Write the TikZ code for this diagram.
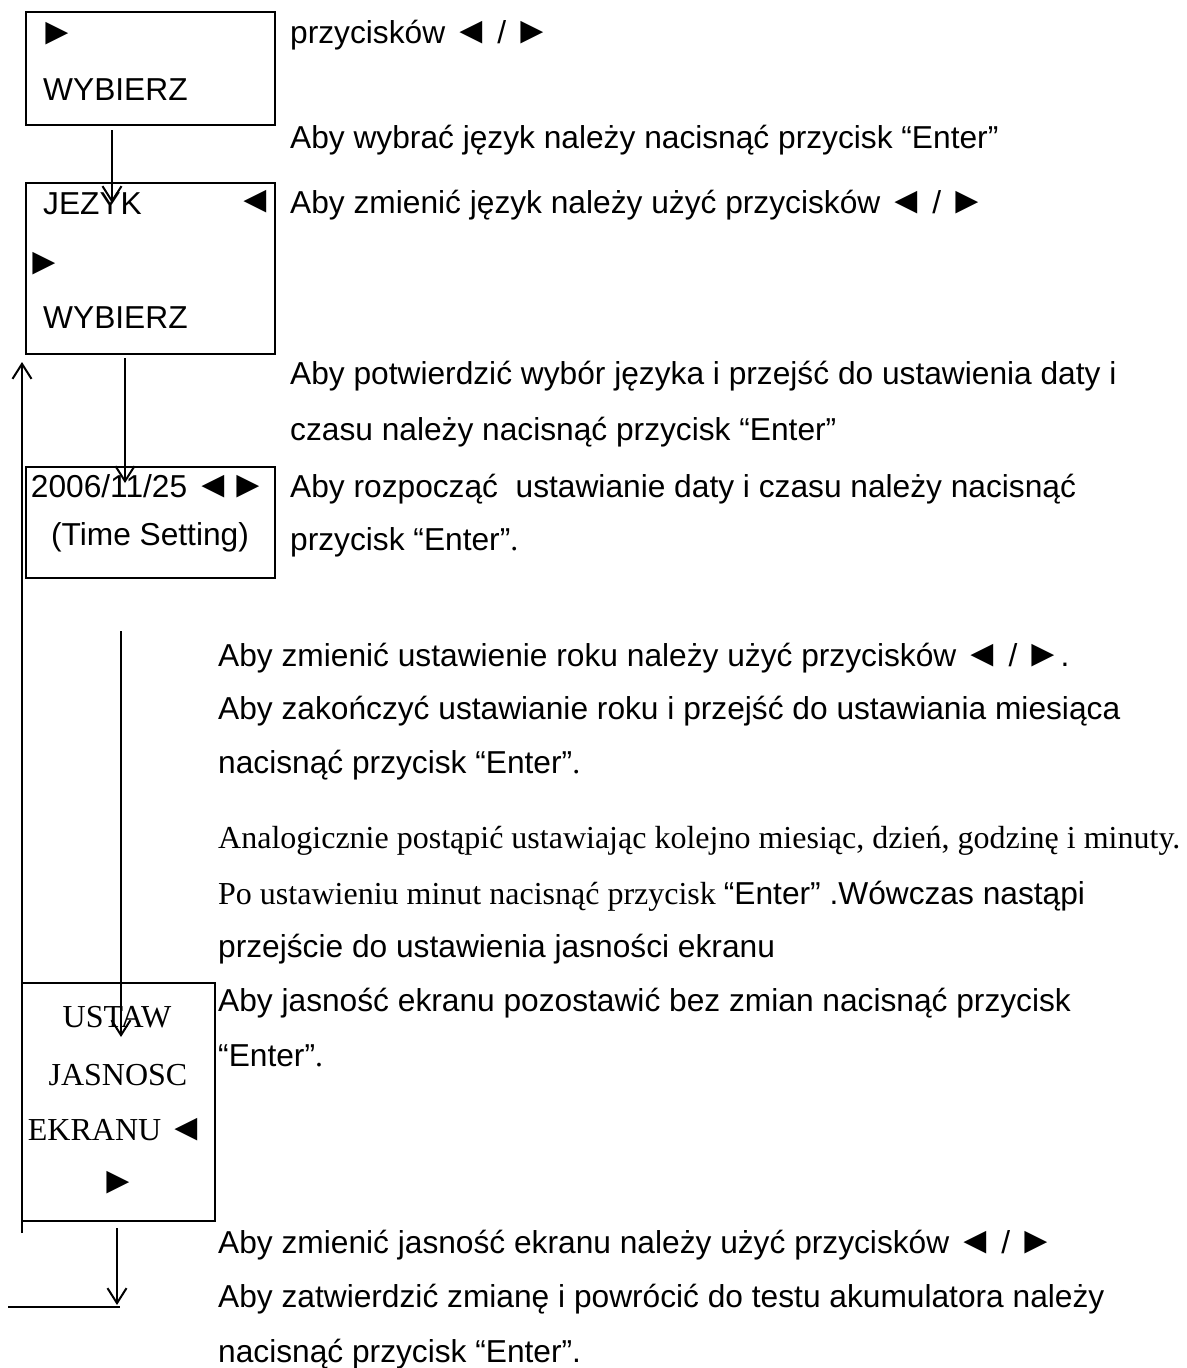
\documentclass[tikz,border=0pt]{standalone}
\usepackage{fontspec}
\setmainfont{Liberation Sans}
\newfontfamily\tnr{Liberation Serif}
\usetikzlibrary{arrows.meta}
\newlength\symwd
\newcommand\symL{\settowidth\symwd{◄}\makebox[1.1\symwd][c]{\fontsize{38}{38}\selectfont ◄}}
\newcommand\symR{\settowidth\symwd{►}\makebox[1.1\symwd][c]{\fontsize{38}{38}\selectfont ►}}
\begin{document}
\begin{tikzpicture}[x=1pt,y=-1pt,
  box/.style={draw, line width=2pt, inner sep=0pt, outer sep=0pt, anchor=north west},
  txt/.style={anchor=base west, inner sep=0pt, font=\fontsize{31.7}{38}\selectfont},
  stxt/.style={anchor=base west, inner sep=0pt, font=\fontsize{32}{38}\tnr},
  sctr/.style={anchor=base, inner sep=0pt, font=\fontsize{32}{38}\tnr},
  cctr/.style={anchor=base, inner sep=0pt, font=\fontsize{31.7}{38}\selectfont},
  sym/.style={anchor=center, inner sep=0pt, font=\fontsize{38}{38}\selectfont},
  arr/.style={line width=2pt, -{Straight Barb[length=15pt,width=19pt,line width=2pt]}},
  ln/.style={line width=2pt}]
\useasboundingbox (0,0) rectangle (1186,1368);
% boxes
\node[box, minimum width=249pt, minimum height=113pt] (b1) at (26,12) {};
\node[box, minimum width=249pt, minimum height=171pt] (b2) at (26,183) {};
\node[box, minimum width=249pt, minimum height=111pt] (b3) at (26,467) {};
\node[box, minimum width=193pt, minimum height=238pt] (b4) at (22,983) {};
% box contents
\node[sym] (b1s) at (57,34) {►};
\node[txt] (b1t) at (43,100) {WYBIERZ};
\node[txt] (b2t) at (43,214) {JEZYK};
\node[sym] (b2l) at (255,202) {◄};
\node[sym] (b2r) at (44,264) {►};
\node[txt] (b2w) at (43,328) {WYBIERZ};
\node[cctr] (b3a) at (148,497) {2006/11/25 \symL\symR};
\node[cctr] (b3b) at (150,545) {(Time Setting)};
\node[sctr] (b4a) at (117,1027) {USTAW};
\node[sctr] (b4b) at (118,1085) {JASNOSC};
\node[sctr] (b4c) at (116,1140) {EKRANU \symL};
\node[sym] (b4d) at (118,1183) {►};
% right texts
\node[txt] (t1) at (290,43) {przycisków \symL{} / \symR};
\node[txt] (t2) at (290,148) {Aby wybrać język należy nacisnąć przycisk “Enter”};
\node[txt] (t3) at (290,213) {Aby zmienić język należy użyć przycisków \symL{} / \symR};
\node[txt] (t4) at (290,384) {Aby potwierdzić wybór języka i przejść do ustawienia daty i};
\node[txt] (t5) at (290,440) {czasu należy nacisnąć przycisk “Enter”};
\node[txt] (t6) at (290,497) {Aby rozpocząć\ \ ustawianie daty i czasu należy nacisnąć};
\node[txt] (t7) at (290,550) {przycisk “Enter”{\tnr .}};
\node[txt] (t8) at (218,666) {Aby zmienić ustawienie roku należy użyć przycisków \symL{} / \symR.};
\node[txt] (t9) at (218,719) {Aby zakończyć ustawianie roku i przejść do ustawiania miesiąca};
\node[txt] (t10) at (218,773) {nacisnąć przycisk “Enter”{\tnr .}};
\node[stxt] (t11) at (218,848) {Analogicznie postąpić ustawiając kolejno miesiąc, dzień, godzinę i minuty.};
\node[txt] (t12) at (218,904) {{\fontsize{32}{38}\tnr Po ustawieniu minut nacisnąć przycisk }“Enter” .Wówczas nastąpi};
\node[txt] (t13) at (218,957) {przejście do ustawienia jasności ekranu};
\node[txt] (t14) at (218,1011) {Aby jasność ekranu pozostawić bez zmian nacisnąć przycisk};
\node[txt] (t15) at (218,1066) {“Enter”{\tnr .}};
\node[txt] (t16) at (218,1253) {Aby zmienić jasność ekranu należy użyć przycisków \symL{} / \symR};
\node[txt] (t17) at (218,1307) {Aby zatwierdzić zmianę i powrócić do testu akumulatora należy};
\node[txt] (t18) at (218,1362) {nacisnąć przycisk “Enter”.};
% connector end points
\coordinate (a1s) at (112,130);
\coordinate (a1e) at (112,203);
\coordinate (a2s) at (125,358);
\coordinate (a2e) at (125,483);
\coordinate (a3s) at (121,631);
\coordinate (a3e) at (121,1037);
\coordinate (a4s) at (22,1233);
\coordinate (a4e) at (22,362);
\coordinate (a5s) at (117,1228);
\coordinate (a5e) at (117,1305);
\coordinate (h1) at (8,1307);
\coordinate (h2) at (120,1307);
% connectors
\draw[arr] (a1s) -- (a1e);
\draw[arr] (a2s) -- (a2e);
\draw[arr] (a3s) -- (a3e);
\draw[arr] (a4s) -- (a4e);
\draw[arr] (a5s) -- (a5e);
\draw[ln] (h1) -- (h2);
\end{tikzpicture}
\end{document}
